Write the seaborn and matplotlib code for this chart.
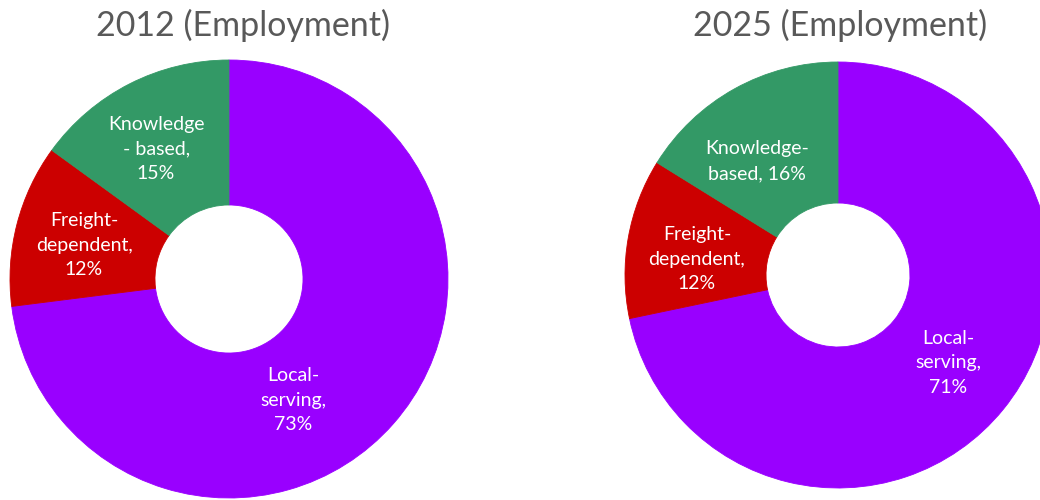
import matplotlib
matplotlib.use("Agg")
import matplotlib.pyplot as plt
import seaborn as sns

# Employment shares by sector type
categories = ["Local-serving", "Freight-dependent", "Knowledge-based"]
years = ["2012", "2025"]
shares_2012 = [73, 12, 15]
shares_2025 = [71, 12, 16]
colors = ["#9900FF", "#CC0000", "#339966"]

# Label text per slice (line breaks as wrapped in each chart)
label_fmt_2012 = ["Local-\nserving,\n{}%", "Freight-\ndependent,\n{}%", "Knowledge\n- based,\n{}%"]
label_fmt_2025 = ["Local-\nserving,\n{}%", "Freight-\ndependent,\n{}%", "Knowledge-\nbased, {}%"]

sns.set_theme(style="white")
plt.rcParams["font.family"] = ["Lato", "DejaVu Sans"]

W, H = 1040, 500
fig = plt.figure(figsize=(W / 100, H / 100), dpi=100)

# layout: (center x px, center y px from top, radius px), label offsets in radius units
panels = [
    dict(year=years[0], shares=shares_2012, fmt=label_fmt_2012,
         cx=229, cy=279, r=219, title_x=243,
         offsets=[(0.292, -0.553), (-0.662, 0.155), (-0.333, 0.594)]),
    dict(year=years[1], shares=shares_2025, fmt=label_fmt_2025,
         cx=838, cy=275, r=213, title_x=840,
         offsets=[(0.516, -0.413), (-0.662, 0.075), (-0.380, 0.535)]),
]

hole_ratio = 0.338

for p in panels:
    left = (p["cx"] - p["r"]) / W
    bottom = (H - p["cy"] - p["r"]) / H
    ax = fig.add_axes([left, bottom, 2 * p["r"] / W, 2 * p["r"] / H])
    wedges, _ = ax.pie(p["shares"], colors=colors, startangle=90, counterclock=False,
                       radius=1.0, wedgeprops=dict(width=1 - hole_ratio, linewidth=0.6))
    for w in wedges:
        w.set_edgecolor(w.get_facecolor())
    ax.set_xlim(-1, 1)
    ax.set_ylim(-1, 1)
    ax.set_aspect("equal")
    ax.axis("off")
    for fmt, val, (dx, dy) in zip(p["fmt"], p["shares"], p["offsets"]):
        ax.text(dx, dy, fmt.format(val), ha="center", va="center",
                color="white", fontsize=14, linespacing=1.55)
    fig.text(p["title_x"] / W, 1 - 36 / H, f"{p['year']} (Employment)",
             ha="center", va="baseline", fontsize=24.5, color="#595959")

fig.savefig("out.png", dpi=100, facecolor="white")
